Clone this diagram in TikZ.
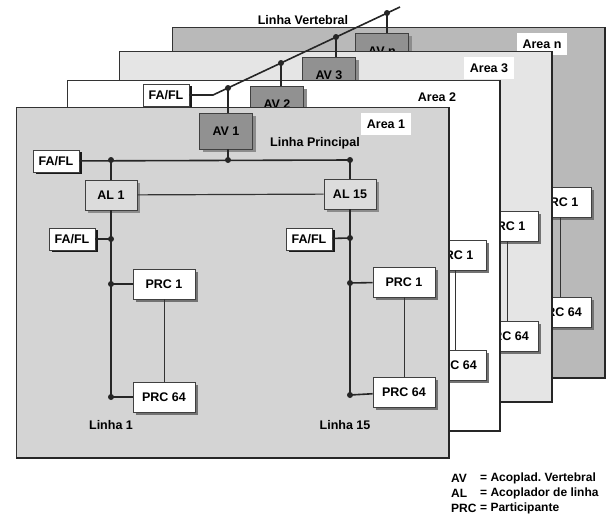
\documentclass[tikz,border=0pt]{standalone}
\usepackage{fontspec}
\setmainfont{Liberation Sans}
\usetikzlibrary{shadows, calc, positioning}
\definecolor{cinzaArea}{RGB}{212,212,212}
\definecolor{cinzaClaro}{RGB}{229,229,229}
\definecolor{cinzaEscuro}{RGB}{185,185,185}
\definecolor{cinzaAV}{RGB}{145,145,145}
\definecolor{cinzaAL}{RGB}{220,220,220}

\newcommand{\rotulo}{\fontsize{12.5}{14}\bfseries\selectfont}
\newcommand{\rotulolegenda}{\fontsize{12}{14}\bfseries\selectfont}

\tikzset{
  caixabase/.style={draw=black!75, line width=0.6pt, inner sep=0pt, font=\rotulo},
  prc/.style={caixabase, fill=white, minimum width=62pt, minimum height=30pt,
    drop shadow={shadow xshift=3pt, shadow yshift=-3pt, fill=black!55, opacity=1}},
  fafl/.style={caixabase, fill=white, minimum width=46pt, minimum height=22pt,
    drop shadow={shadow xshift=3pt, shadow yshift=-2pt, fill=black!90, opacity=1}},
  av/.style={caixabase, fill=cinzaAV, minimum width=53pt, minimum height=36pt,
    drop shadow={shadow xshift=3pt, shadow yshift=-3pt, fill=black!45, opacity=1}},
  al/.style={caixabase, fill=cinzaAL, minimum width=52pt, minimum height=30pt,
    drop shadow={shadow xshift=3pt, shadow yshift=-3pt, fill=black!45, opacity=1}},
  ponto/.style={circle, fill=black!85, inner sep=0pt, minimum size=6pt},
  barra/.style={line width=1.6pt, black!85},
  fio/.style={line width=0.9pt, black!80},
  etiqueta/.style={fill=white, inner sep=0pt, minimum width=50pt, minimum height=22pt, font=\rotulo},
  texto/.style={font=\rotulo},
  legenda/.style={font=\rotulolegenda, anchor=west, inner sep=0pt}
}

% placa de uma area: #1 sufixo, #2 deslocamento, #3 cor, #4 AV, #5 area
\newcommand{\placa}[5]{%
  \begin{scope}[shift={#2}]
    \filldraw[fill=#3, draw=black!80, line width=0.8pt] (16,107) rectangle (449,458);
    \draw[line width=2pt, black!85] (449,107) -- (449,458) -- (16,458);
    \node[etiqueta] (area-#1) at (386,124) {#5};
    \node[av] (av-#1) at (226,131) {#4};
    % participantes da linha 15
    \node[prc] (pf1-#1) at (404,282) {PRC 1};
    \node[prc] (pf64-#1) at (404,392) {PRC 64};
    \draw[fio] (pf1-#1) -- (pf64-#1);
  \end{scope}}

\begin{document}
\begin{tikzpicture}[x=1pt, y=-1pt]
  \useasboundingbox (0,0) rectangle (608,517);

  % AREAS (de tras para a frente)
  \placa{n}{(156,-80)}{cinzaEscuro}{AV n}{Area n}
  \placa{3}{(103,-56)}{cinzaClaro}{AV 3}{Area 3}
  \placa{2}{(51,-27)}{white}{AV 2}{Area 2}
  % FA/FL da linha vertebral
  \node[fafl] (fv) at (166,95) {FA/FL};
  \placa{1}{(0,0)}{cinzaArea}{AV 1}{Area 1}

  % AREA 1
  % Linha principal
  \node[texto] (lp) at (315,143) {Linha Principal};
  \node[fafl] (fp) at (56,161) {FA/FL};
  \node[ponto] (d1) at (111,160) {};
  \node[ponto] (d2) at (228,160) {};
  \node[ponto] (d3) at (350,160) {};
  \node[al] (al1) at (111,195) {AL 1};
  \node[al] (al15) at (350,194) {AL 15};
  \draw[barra] (fp) -- (d3.center);
  \draw[barra] (d2.center) -- (d2 |- av-1.south);
  \draw[barra] (d1.center) -- (al1);
  \draw[barra] (d3.center) -- (al15);
  \draw[fio, line width=1.2pt] (al1) -- (al15);

  % Linha 1
  \node[ponto] (e1) at (111,239) {};
  \node[ponto] (e2) at (111,284) {};
  \node[ponto] (e3) at (111,397) {};
  \node[fafl] (fe) at (72,239) {FA/FL};
  \node[prc] (pe1) at (164,284) {PRC 1};
  \node[prc] (pe64) at (164,397) {PRC 64};
  \draw[barra] (al1) -- (e3.center);
  \draw[barra] (fe) -- (e1.center);
  \draw[barra] (e2.center) -- (pe1);
  \draw[barra] (e3.center) -- (pe64);
  \draw[fio] (pe1) -- (pe64);
  \node[texto] (l1) at (111,425) {Linha 1};

  % Linha 15
  \node[ponto] (f1) at (350,238) {};
  \node[ponto] (f2) at (350,283) {};
  \node[ponto] (f3) at (350,395) {};
  \node[fafl] (ff) at (309,239) {FA/FL};
  \draw[barra] (al15) -- (f3.center);
  \draw[barra] (ff) -- (f1.center);
  \draw[barra] (f2.center) -- (pf1-1);
  \draw[barra] (f3.center) -- (pf64-1);
  \node[texto] (l15) at (345,425) {Linha 15};

  % LINHA VERTEBRAL
  \coordinate (vi) at (213,95);
  \coordinate (vf) at (400,7);
  \node[ponto] (v1) at (228,88) {};
  \node[ponto] (v2) at (281,63) {};
  \node[ponto] (v3) at (336,37) {};
  \node[ponto] (v4) at (387,13) {};
  \draw[barra] (fv) -- (vi) -- (vf);
  \draw[barra] (v1.center) -- (v1 |- av-1.north);
  \draw[barra] (v2.center) -- (v2 |- av-2.north);
  \draw[barra] (v3.center) -- (v3 |- av-3.north);
  \draw[barra] (v4.center) -- (v4 |- av-n.north);
  \node[texto] (lv) at (303,20) {Linha Vertebral};

  % LEGENDA
  \node[legenda] (lg-av) at (451,478) {AV};
  \node[legenda] (lg-al) at (451,493) {AL};
  \node[legenda] (lg-prc) at (451,508) {PRC};
  \node[legenda] (tx-av) at (480,478) {= Acoplad.\ Vertebral};
  \node[legenda] (tx-al) at (480,493) {= Acoplador de linha};
  \node[legenda] (tx-prc) at (480,508) {= Participante};
\end{tikzpicture}
\end{document}
